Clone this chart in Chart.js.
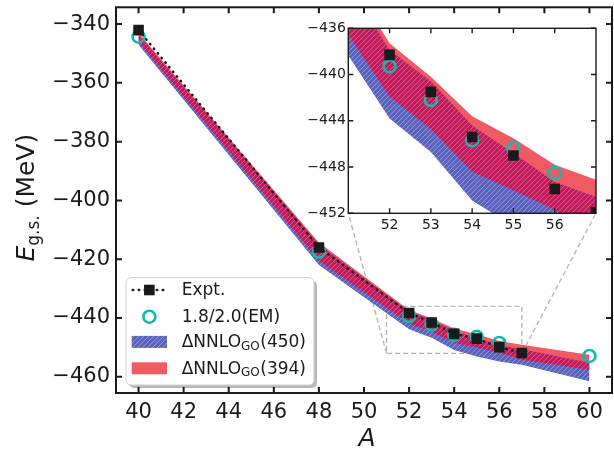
<!DOCTYPE html>
<html><head><meta charset="utf-8">
<script src="https://cdn.jsdelivr.net/npm/chart.js@4.4.1/dist/chart.umd.min.js"></script>
<style>
html,body{margin:0;padding:0;background:#fff;}
#wrap{position:relative;width:614px;height:449px;overflow:hidden;background:#fff;}
#main{position:absolute;left:0;top:0;}
#inset{position:absolute;left:300px;top:0;}
</style></head><body>
<div id="wrap"><canvas id="main" width="614" height="449"></canvas><canvas id="inset" width="314" height="245"></canvas></div>
<script>
// ---------------- data ----------------
const A_BAND = [40, 48, 52, 53, 54, 55, 56, 57, 60];
const BAND394_TOP    = [-343.0, -414.3, -437.3, -440.2, -443.6, -445.5, -447.8, -449.1, -452.5];
const BAND394_BOTTOM = [-346.0, -420.5, -441.9, -444.7, -448.4, -450.0, -451.7, -454.2, -457.6];
const BAND450_TOP    = [-343.6, -415.0, -437.9, -440.6, -444.4, -446.8, -449.3, -450.6, -455.3];
const BAND450_BOTTOM = [-347.0, -422.0, -443.8, -446.7, -450.9, -453.1, -454.8, -455.9, -461.5];

const A_EXPT = [40, 48, 52, 53, 54, 55, 56, 57];
const E_EXPT = [-342.05, -416.0, -438.3, -441.5, -445.4, -447.0, -449.9, -451.9];

const A_EM = [40, 48, 52, 53, 54, 55, 56, 60];
const E_EM = [-344.3, -417.4, -439.3, -442.2, -445.7, -446.4, -448.5, -452.9];

const X_TICKS = [40, 42, 44, 46, 48, 50, 52, 54, 56, 58, 60];
const Y_TICKS = [-460, -440, -420, -400, -380, -360, -340];
const INSET_X_TICKS = [52, 53, 54, 55, 56];
const INSET_Y_TICKS = [-452, -448, -444, -440, -436];
const ZOOM_X = [51, 57];
const ZOOM_Y = [-452, -436];

const LEGEND_LABELS = ['Expt.', '1.8/2.0(EM)', ['\u0394NNLO', 'GO', '(450)'], ['\u0394NNLO', 'GO', '(394)']];

// ---------------- styles ----------------
const FONT = "'DejaVu Sans', sans-serif";
const TXT = '#1a1a1a';
const RED = '#F05A62';
const TEAL = '#14B8B0';

function hatch(bg, fg, s, lw) {
  const c = document.createElement('canvas'); c.width = s; c.height = s;
  const g = c.getContext('2d');
  g.fillStyle = bg; g.fillRect(0, 0, s, s);
  g.strokeStyle = fg; g.lineWidth = lw;
  g.beginPath();
  g.moveTo(0, s); g.lineTo(s, 0);
  g.moveTo(-1, 1); g.lineTo(1, -1);
  g.moveTo(s - 1, s + 1); g.lineTo(s + 1, s - 1);
  g.stroke();
  return g.createPattern(c, 'repeat');
}
const BLUE_HATCH = hatch('#5C63BC', '#8F95D8', 5, 1);
const CRIMSON_HATCH = hatch('#C21C5C', '#D9588A', 5, 1);

const pts = (xs, ys) => xs.map((x, i) => ({x, y: ys[i]}));
const minus = v => v < 0 ? '\u2212' + Math.abs(v) : String(v);

function makeDatasets(clip, exptLine) {
  const band = (data, fill, bg, order) => ({data, fill, backgroundColor: bg, borderColor: 'rgba(0,0,0,0)',
    borderWidth: 0, pointRadius: 0, pointHoverRadius: 0, order, clip});
  return [
    band(pts(A_BAND, BAND394_TOP), 1, RED, 30),
    band(pts(A_BAND, BAND394_BOTTOM), false, RED, 31),
    band(pts(A_BAND, BAND450_TOP), 3, BLUE_HATCH, 20),
    band(pts(A_BAND, BAND450_BOTTOM), false, BLUE_HATCH, 21),
    band(pts(A_BAND, BAND450_TOP), 5, CRIMSON_HATCH, 10),
    band(pts(A_BAND, BAND394_BOTTOM), false, CRIMSON_HATCH, 11),
    {label: 'Expt.', data: pts(A_EXPT, E_EXPT), showLine: exptLine, borderColor: TXT, borderWidth: 2.5,
     borderDash: [0.5, 5.5], borderCapStyle: 'round', fill: false,
     pointStyle: 'rect', pointRadius: 7.5, pointHoverRadius: 7.5, pointBackgroundColor: TXT,
     pointBorderWidth: 0, order: 0, clip},
    {label: '1.8/2.0(EM)', data: pts(A_EM, E_EM), showLine: false, fill: false,
     pointStyle: 'circle', pointRadius: 6, pointHoverRadius: 6, pointBorderWidth: 2.6,
     pointBorderColor: TEAL, pointBackgroundColor: 'rgba(0,0,0,0)', order: 1, clip}
  ];
}

function drawFrame(chart, xt, yt, len, lw) {
  const {ctx, chartArea: a, scales: {x, y}} = chart;
  ctx.save(); ctx.strokeStyle = TXT; ctx.lineWidth = lw; ctx.setLineDash([]);
  ctx.beginPath();
  xt.forEach(v => { const p = x.getPixelForValue(v);
    ctx.moveTo(p, a.bottom); ctx.lineTo(p, a.bottom - len);
    ctx.moveTo(p, a.top); ctx.lineTo(p, a.top + len); });
  yt.forEach(v => { const p = y.getPixelForValue(v);
    ctx.moveTo(a.left, p); ctx.lineTo(a.left + len, p);
    ctx.moveTo(a.right, p); ctx.lineTo(a.right - len, p); });
  ctx.stroke();
  ctx.strokeRect(a.left, a.top, a.right - a.left, a.bottom - a.top);
  ctx.restore();
}

function axisCfg(min, max, ticks, fontSize, padding, fitKey, fitVal) {
  return {
    type: 'linear', min, max,
    afterBuildTicks: s => { s.ticks = ticks.map(v => ({value: v})); },
    afterFit: s => { s[fitKey] = fitVal; s.paddingTop = 0; s.paddingBottom = 0; s.paddingLeft = 0; s.paddingRight = 0; },
    ticks: {callback: minus, color: TXT, font: {family: FONT, size: fontSize}, padding,
            autoSkip: false, maxRotation: 0, minRotation: 0},
    grid: {display: false, drawTicks: false},
    border: {display: false}
  };
}

// ---------------- inset ----------------
const INSET_LEFT = 300, INSET_TOP = 0;
const insetChart = new Chart(document.getElementById('inset'), {
  type: 'line',
  data: {datasets: makeDatasets(0, false)},
  options: {
    responsive: false, animation: false, devicePixelRatio: 1,
    layout: {autoPadding: false, padding: {top: 28.3, right: 18, left: 0, bottom: 0}},
    plugins: {legend: {display: false}, tooltip: {enabled: false}},
    scales: {
      x: axisCfg(ZOOM_X[0], ZOOM_X[1], INSET_X_TICKS, 14, 4, 'height', 31.7),
      y: axisCfg(ZOOM_Y[0], ZOOM_Y[1], INSET_Y_TICKS, 14, 2.5, 'width', 48.3)
    }
  },
  plugins: [{
    id: 'insetDeco',
    beforeDatasetsDraw(chart) {
      const {ctx, chartArea: a} = chart;
      ctx.save(); ctx.globalCompositeOperation = 'destination-over';
      ctx.fillStyle = '#fff'; ctx.fillRect(a.left, a.top, a.right - a.left, a.bottom - a.top);
      ctx.restore();
    },
    afterDraw(chart) { drawFrame(chart, INSET_X_TICKS, INSET_Y_TICKS, 5, 1.4); }
  }]
});

// ---------------- main ----------------
function drawLegend(ctx) {
  const bx = 126, by = 277.7, bw = 188, bh = 107.3;
  ctx.save();
  ctx.fillStyle = 'rgba(0,0,0,0.28)';
  ctx.beginPath(); ctx.roundRect(bx + 3, by + 3, bw, bh, 5); ctx.fill();
  ctx.fillStyle = '#fff'; ctx.strokeStyle = '#cfcfcf'; ctx.lineWidth = 1;
  ctx.beginPath(); ctx.roundRect(bx, by, bw, bh, 5); ctx.fill(); ctx.stroke();
  const rows = [290, 316.7, 341.9, 368.3];
  const hx0 = 131.7, hx1 = 167, hc = (hx0 + hx1) / 2;
  ctx.strokeStyle = TXT; ctx.lineWidth = 2.5; ctx.lineCap = 'round'; ctx.setLineDash([0.5, 5.5]);
  ctx.beginPath(); ctx.moveTo(hx0 + 1, rows[0]); ctx.lineTo(hx1, rows[0]); ctx.stroke();
  ctx.setLineDash([]); ctx.fillStyle = TXT;
  ctx.fillRect(hc - 5.3, rows[0] - 5.3, 10.6, 10.6);
  ctx.strokeStyle = TEAL; ctx.lineWidth = 2.6;
  ctx.beginPath(); ctx.arc(hc, rows[1], 6, 0, Math.PI * 2); ctx.stroke();
  ctx.fillStyle = BLUE_HATCH; ctx.fillRect(hx0, rows[2] - 6, hx1 - hx0, 12);
  ctx.fillStyle = RED; ctx.fillRect(hx0, rows[3] - 6, hx1 - hx0, 12);
  ctx.fillStyle = TXT; ctx.textBaseline = 'middle'; ctx.textAlign = 'left';
  LEGEND_LABELS.forEach((lab, i) => {
    const tx = 181.7, ty = rows[i] + 1;
    if (typeof lab === 'string') {
      ctx.font = `17px ${FONT}`; ctx.fillText(lab, tx, ty);
    } else {
      ctx.font = `17px ${FONT}`; ctx.fillText(lab[0], tx, ty);
      let w = ctx.measureText(lab[0]).width;
      ctx.font = `12px ${FONT}`; ctx.fillText(lab[1], tx + w, ty + 4);
      w += ctx.measureText(lab[1]).width + 0.5;
      ctx.font = `17px ${FONT}`; ctx.fillText(lab[2], tx + w, ty);
    }
  });
  ctx.restore();
}

function drawTitles(chart) {
  const {ctx, chartArea: a} = chart;
  ctx.save(); ctx.fillStyle = TXT; ctx.textBaseline = 'alphabetic';
  ctx.font = `italic 25px ${FONT}`; ctx.textAlign = 'center';
  ctx.fillText('A', (a.left + a.right) / 2 + 3, 446);
  ctx.translate(33.5, (a.top + a.bottom) / 2 - 2.5); ctx.rotate(-Math.PI / 2);
  ctx.textAlign = 'left';
  const parts = [['E', `italic 25px ${FONT}`, 0], ['g.s.', `17px ${FONT}`, 5], [' (MeV)', `25px ${FONT}`, 0]];
  let total = 0;
  parts.forEach(p => { ctx.font = p[1]; total += ctx.measureText(p[0]).width; });
  let cx = -total / 2;
  parts.forEach(p => { ctx.font = p[1]; ctx.fillText(p[0], cx, p[2]); cx += ctx.measureText(p[0]).width; });
  ctx.restore();
}

const mainChart = new Chart(document.getElementById('main'), {
  type: 'line',
  data: {datasets: makeDatasets(undefined, true)},
  options: {
    responsive: false, animation: false, devicePixelRatio: 1,
    layout: {autoPadding: false, padding: {top: 7.3, right: 2, left: 0, bottom: 0}},
    plugins: {legend: {display: false}, tooltip: {enabled: false}},
    scales: {
      x: axisCfg(39, 61, X_TICKS, 21, 7, 'height', 56),
      y: axisCfg(-465.5, -334.3, Y_TICKS, 21, 6, 'width', 116)
    }
  },
  plugins: [{
    id: 'mainDeco',
    beforeDatasetsDraw(chart) {
      const {ctx, scales: {x, y}} = chart;
      const ix = insetChart.scales.x, iy = insetChart.scales.y;
      const x0 = x.getPixelForValue(ZOOM_X[0]), x1 = x.getPixelForValue(ZOOM_X[1]);
      const y0 = y.getPixelForValue(ZOOM_Y[0]), y1 = y.getPixelForValue(ZOOM_Y[1]);
      ctx.save(); ctx.strokeStyle = '#b3b3b3'; ctx.lineWidth = 1.3; ctx.setLineDash([5, 3]);
      ctx.strokeRect(x0, y1, x1 - x0, y0 - y1);
      ctx.beginPath();
      ctx.moveTo(x0, y0); ctx.lineTo(INSET_LEFT + ix.getPixelForValue(ZOOM_X[0]), INSET_TOP + iy.getPixelForValue(ZOOM_Y[0]));
      ctx.moveTo(x1, y0); ctx.lineTo(INSET_LEFT + ix.getPixelForValue(ZOOM_X[1]), INSET_TOP + iy.getPixelForValue(ZOOM_Y[0]));
      ctx.stroke(); ctx.restore();
    },
    afterDraw(chart) {
      drawFrame(chart, X_TICKS, Y_TICKS, 6, 2);
      drawTitles(chart);
      drawLegend(chart.ctx);
    }
  }]
});
</script>
</body></html>
